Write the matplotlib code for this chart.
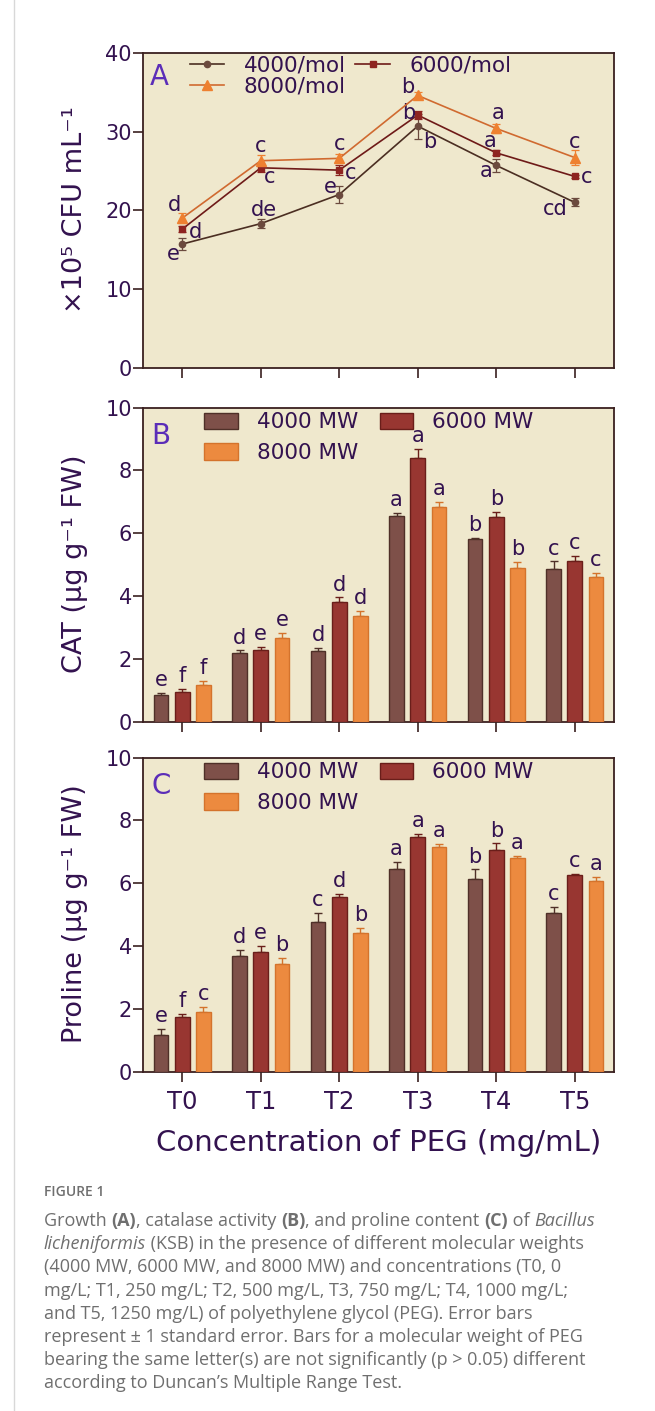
import matplotlib
matplotlib.use("Agg")
import matplotlib.pyplot as plt
import numpy as np
from matplotlib.lines import Line2D
from matplotlib.patches import Patch

# ----------------------------------------------------------------------
# Data
# ----------------------------------------------------------------------
treatments = ["T0", "T1", "T2", "T3", "T4", "T5"]
series_names = ["4000", "6000", "8000"]

# Panel A: growth (x10^5 CFU/mL)
growth_4000 = [15.7, 18.3, 22.0, 30.7, 25.7, 21.0]
growth_6000 = [17.6, 25.4, 25.1, 32.1, 27.3, 24.3]
growth_8000 = [19.0, 26.3, 26.6, 34.6, 30.4, 26.7]
growth_err_4000 = [0.8, 0.6, 1.1, 1.6, 0.8, 0.5]
growth_err_6000 = [0.4, 0.5, 0.6, 0.5, 0.3, 0.2]
growth_err_8000 = [0.6, 0.7, 0.6, 0.4, 0.6, 0.9]
growth_let_4000 = ["e", "de", "e", "b", "a", "cd"]
growth_let_6000 = ["d", "c", "c", "b", "a", "c"]
growth_let_8000 = ["d", "c", "c", "b", "a", "c"]

# Panel B: catalase activity
cat_4000 = [0.85, 2.18, 2.25, 6.56, 5.83, 4.86]
cat_6000 = [0.95, 2.30, 3.81, 8.41, 6.53, 5.12]
cat_8000 = [1.19, 2.66, 3.37, 6.84, 4.90, 4.61]
cat_err_4000 = [0.08, 0.10, 0.10, 0.08, 0.03, 0.25]
cat_err_6000 = [0.10, 0.10, 0.15, 0.28, 0.15, 0.15]
cat_err_8000 = [0.12, 0.17, 0.17, 0.17, 0.20, 0.12]
cat_let_4000 = ["e", "d", "d", "a", "b", "c"]
cat_let_6000 = ["f", "e", "d", "a", "b", "c"]
cat_let_8000 = ["f", "e", "d", "a", "b", "c"]

# Panel C: proline content
pro_4000 = [1.19, 3.68, 4.77, 6.47, 6.14, 5.04]
pro_6000 = [1.75, 3.82, 5.56, 7.48, 7.07, 6.26]
pro_8000 = [1.90, 3.44, 4.41, 7.14, 6.79, 6.07]
pro_err_4000 = [0.17, 0.20, 0.30, 0.20, 0.30, 0.20]
pro_err_6000 = [0.10, 0.20, 0.10, 0.10, 0.20, 0.05]
pro_err_8000 = [0.17, 0.18, 0.17, 0.12, 0.08, 0.13]
pro_let_4000 = ["e", "d", "c", "a", "b", "c"]
pro_let_6000 = ["f", "e", "d", "a", "b", "c"]
pro_let_8000 = ["c", "b", "b", "a", "a", "a"]

caption_head = "FIGURE 1"
caption_lines = [
    [("Growth ", "n"), ("(A)", "b"), (", catalase activity ", "n"), ("(B)", "b"),
     (", and proline content ", "n"), ("(C)", "b"), (" of ", "n"), ("Bacillus", "i")],
    [("licheniformis", "i"), (" (KSB) in the presence of different molecular weights", "n")],
    [("(4000 MW, 6000 MW, and 8000 MW) and concentrations (T0, 0", "n")],
    [("mg/L; T1, 250 mg/L; T2, 500 mg/L, T3, 750 mg/L; T4, 1000 mg/L;", "n")],
    [("and T5, 1250 mg/L) of polyethylene glycol (PEG). Error bars", "n")],
    [("represent \u00b1 1 standard error. Bars for a molecular weight of PEG", "n")],
    [("bearing the same letter(s) are not significantly (p > 0.05) different", "n")],
    [("according to Duncan\u2019s Multiple Range Test.", "n")],
]

# ----------------------------------------------------------------------
# Styling
# ----------------------------------------------------------------------
W, H = 655, 1411
bg = "#EFE8CD"
txt_col = "#33124F"
letter_col = "#5B2DB8"
spine_col = "#3A2020"
bar_face = ["#7E5049", "#983631", "#EC8A3F"]
bar_edge = ["#4F3028", "#6A1E1A", "#D4732C"]
line_col = ["#4B2E22", "#6E1A18", "#D06A30"]
mark_col = ["#6B4A3E", "#8E2420", "#EE8030"]
markers = ["o", "s", "^"]
msizes = [4.5, 5, 7]

plt.rcParams["font.family"] = ["DejaVu Sans"]
plt.rcParams["mathtext.default"] = "regular"

fig = plt.figure(figsize=(W / 100, H / 100), dpi=100)
fig.patch.set_facecolor("white")

def px_axes(top, bottom, left=143, right=614):
    return fig.add_axes([left / W, 1 - bottom / H, (right - left) / W, (bottom - top) / H])

axA = px_axes(53, 367.5)
axB = px_axes(407.5, 722)
axC = px_axes(757.5, 1072)

x = np.arange(len(treatments))

for ax in (axA, axB, axC):
    ax.set_facecolor(bg)
    for s in ax.spines.values():
        s.set_color(spine_col)
        s.set_linewidth(1.3)
    ax.set_xlim(-0.5, 5.5)
    ax.set_xticks(x)
    ax.tick_params(axis="both", direction="out", length=7, width=1.2,
                   color=spine_col, labelcolor=txt_col, labelsize=15)
    ax.tick_params(axis="y", pad=1)
    ax.tick_params(axis="x", pad=6)

# ----------------------------------------------------------------------
# Panel A - growth lines
# ----------------------------------------------------------------------
growth = [growth_4000, growth_6000, growth_8000]
growth_err = [growth_err_4000, growth_err_6000, growth_err_8000]
growth_let = [growth_let_4000, growth_let_6000, growth_let_8000]
# letter offsets (pixels) relative to each point
offsA = [
    [(-9, -10), (3, 14), (-9, 8), (12, -16), (-10, -6), (-19, -7)],
    [(13, -3), (9, -9), (11, -3), (-9, 2), (-6, 12), (12, -1)],
    [(-8, 13), (0, 15), (0, 14), (-10, 8), (2, 15), (0, 16)],
]
handlesA = []
for i in range(3):
    axA.errorbar(x, growth[i], yerr=growth_err[i], fmt="none", ecolor=mark_col[i],
                 elinewidth=0.9, capsize=3, capthick=0.9, zorder=2)
    h, = axA.plot(x, growth[i], color=line_col[i], lw=1.2, marker=markers[i],
                  ms=msizes[i], mfc=mark_col[i], mec=mark_col[i], zorder=3)
    handlesA.append(h)
    for j in range(len(x)):
        dx, dy = offsA[i][j]
        axA.annotate(growth_let[i][j], (x[j], growth[i][j]),
                     xytext=(dx * 0.72, dy * 0.72), textcoords="offset points",
                     ha="center", va="center", fontsize=15, color=txt_col)
axA.set_ylim(0, 40)
axA.set_yticks([0, 10, 20, 30, 40])
axA.set_xticklabels([])
axA.legend([handlesA[0], handlesA[2], handlesA[1]],
           ["4000/mol", "8000/mol", "6000/mol"], ncol=2, frameon=False,
           loc="upper left", bbox_to_anchor=(0.095, 1.0), borderpad=0.1,
           borderaxespad=0, fontsize=15.5, handlelength=1.6, handletextpad=0.9,
           columnspacing=0.45, labelspacing=0.05, labelcolor=txt_col)
axA.text(0.015, 0.925, "A", transform=axA.transAxes, fontsize=20,
         color=letter_col, ha="left", va="center")

# ----------------------------------------------------------------------
# Panels B and C - grouped bars
# ----------------------------------------------------------------------
bw = 0.185
shift = [-0.27, 0.0, 0.27]

def bar_panel(ax, vals, errs, lets, letter):
    handles = []
    for i in range(3):
        xs = x + shift[i]
        lower = np.zeros(len(vals[i]))
        ax.errorbar(xs, vals[i], yerr=[lower, errs[i]], fmt="none", ecolor=bar_edge[i],
                    elinewidth=1.0, capsize=3, capthick=1.0, zorder=2)
        b = ax.bar(xs, vals[i], width=bw, color=bar_face[i], edgecolor=bar_edge[i],
                   linewidth=1.0, zorder=3)
        handles.append(b)
        for j in range(len(xs)):
            ax.annotate(lets[i][j], (xs[j], vals[i][j] + errs[i][j]),
                        xytext=(0, 2), textcoords="offset points",
                        ha="center", va="bottom", fontsize=15, color=txt_col)
    ax.set_ylim(0, 10)
    ax.set_yticks([0, 2, 4, 6, 8, 10])
    patches = [Patch(facecolor=bar_face[i], edgecolor=bar_edge[i], lw=1.0) for i in range(3)]
    ax.legend([patches[0], patches[2], patches[1]], ["4000 MW", "8000 MW", "6000 MW"],
              ncol=2, frameon=False, loc="upper left", bbox_to_anchor=(0.13, 0.985),
              borderpad=0, borderaxespad=0, fontsize=15.5, handlelength=1.55,
              handleheight=0.8, handletextpad=0.9, columnspacing=1.0,
              labelspacing=0.5, labelcolor=txt_col)
    ax.text(0.018, 0.91, letter, transform=ax.transAxes, fontsize=20,
            color=letter_col, ha="left", va="center")

bar_panel(axB, [cat_4000, cat_6000, cat_8000], [cat_err_4000, cat_err_6000, cat_err_8000],
          [cat_let_4000, cat_let_6000, cat_let_8000], "B")
axB.set_xticklabels([])

bar_panel(axC, [pro_4000, pro_6000, pro_8000], [pro_err_4000, pro_err_6000, pro_err_8000],
          [pro_let_4000, pro_let_6000, pro_let_8000], "C")
axC.set_xticklabels(treatments, fontsize=17.5)

# ----------------------------------------------------------------------
# Axis titles
# ----------------------------------------------------------------------
fig.text(75 / W, 1 - 210 / H, "\u00d710\u2075 CFU mL\u207b\u00b9", rotation=90,
         ha="center", va="center", fontsize=19.5, color=txt_col)
fig.text(75 / W, 1 - 564 / H, "CAT (\u00b5g g\u207b\u00b9 FW)",
         rotation=90, ha="center", va="center", fontsize=19.5, color=txt_col)
fig.text(75 / W, 1 - 914 / H, "Proline (\u00b5g g\u207b\u00b9 FW)", rotation=90,
         ha="center", va="center", fontsize=19.5, color=txt_col)
fig.text(378.5 / W, 1 - 1143 / H, "Concentration of PEG (mg/mL)", ha="center",
         va="center", fontsize=21, color=txt_col)

# ----------------------------------------------------------------------
# Caption and page border
# ----------------------------------------------------------------------
cap_col = "#6F6F6F"
cap_font = ["Open Sans", "DejaVu Sans"]
cap_size = 13
fig.add_artist(Line2D([14 / W, 14 / W], [0, 1], color="#D8D8D8", lw=1.0))
fig.text(44 / W, 1 - 1192 / H, caption_head, fontsize=10, color=cap_col,
         family=cap_font, fontweight="semibold", ha="left", va="center")

renderer = fig.canvas.get_renderer()

def run_width(s, style):
    kw = dict(fontsize=cap_size, family=cap_font)
    if style == "b":
        kw["fontweight"] = "bold"
    if style == "i":
        kw["fontstyle"] = "italic"
    t1 = fig.text(0, 0, s + ".", **kw)
    t2 = fig.text(0, 0, ".", **kw)
    w = t1.get_window_extent(renderer).width - t2.get_window_extent(renderer).width
    t1.remove()
    t2.remove()
    return w, kw

y0 = 1226
for k, line in enumerate(caption_lines):
    xp = 44
    yp = y0 + k * 23.2
    for s, style in line:
        w, kw = run_width(s, style)
        fig.text(xp / W, 1 - yp / H, s, color=cap_col, ha="left", va="baseline", **kw)
        xp += w

fig.savefig("out.png", dpi=100, facecolor="white")
